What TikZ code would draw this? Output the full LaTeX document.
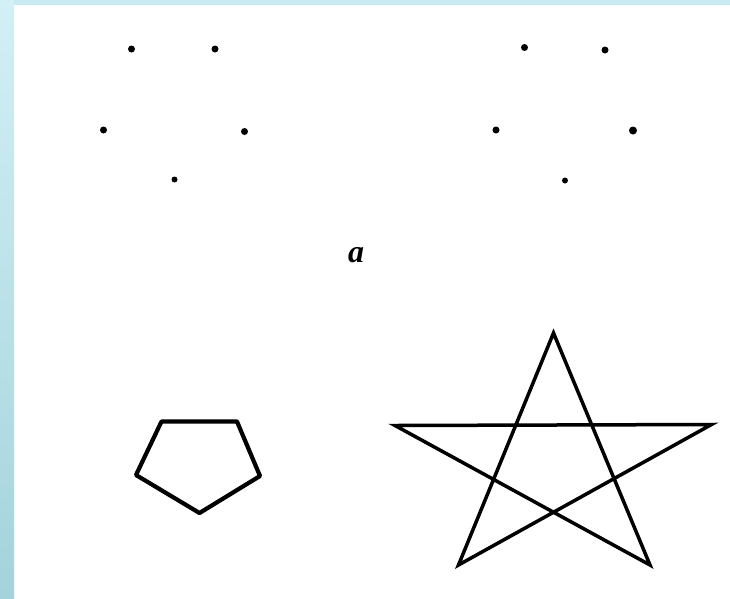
\documentclass[tikz,border=0pt]{standalone}
\usepackage{fontspec}
\setmainfont{Liberation Serif}
\definecolor{frametop}{HTML}{D2F0F5}
\definecolor{framebot}{HTML}{A4D3DB}
\definecolor{framestrip}{HTML}{C8EAF0}
\begin{document}
\begin{tikzpicture}[x=1pt,y=-1pt,
  dotnode/.style={circle,fill=black,inner sep=0pt,minimum size=7pt},
  shapeline/.style={draw=black,line width=4.2pt,line join=round,line cap=round},
  starline/.style={draw=black,line width=3.5pt,line join=miter,line cap=round}]
\useasboundingbox (0,0) rectangle (730,598);
\fill[white] (0,0) rectangle (730,598);
% light blue frame
\shade[top color=frametop,bottom color=framebot] (0,0) rectangle (14,598);
\fill[framestrip] (14,0) rectangle (730,5);
% dots, left group
\node[dotnode] (l1) at (131.5,49) {};
\node[dotnode] (l2) at (215,49) {};
\node[dotnode] (l3) at (103.5,130) {};
\node[dotnode] (l4) at (244.5,131.5) {};
\node[dotnode,minimum size=6pt] (l5) at (174.5,179.5) {};
% dots, right group
\node[dotnode] (r1) at (524.5,47.5) {};
\node[dotnode] (r2) at (605,50) {};
\node[dotnode] (r3) at (496,130) {};
\node[dotnode,minimum size=8pt] (r4) at (633,130.5) {};
\node[dotnode,minimum size=6pt] (r5) at (565,180.5) {};
% label
\node[font=\fontsize{32}{34}\selectfont\bfseries\itshape,inner sep=0pt] (lab) at (356,255.5) {a};
% pentagon
\coordinate (p1) at (161.5,421.5);
\coordinate (p2) at (237,421.5);
\coordinate (p3) at (260,476);
\coordinate (p4) at (199.5,513);
\coordinate (p5) at (136,475);
\path[shapeline] (p1) -- (p2) -- (p3) -- (p4) -- (p5) -- cycle;
% star
\coordinate (s1) at (553.5,333);
\coordinate (s2) at (711.5,424.5);
\coordinate (s3) at (650,565);
\coordinate (s4) at (458.5,565);
\coordinate (s5) at (395,425.5);
\path[starline] (s1) -- (s4) -- (s2) -- (s5) -- (s3) -- cycle;
\end{tikzpicture}
\end{document}
